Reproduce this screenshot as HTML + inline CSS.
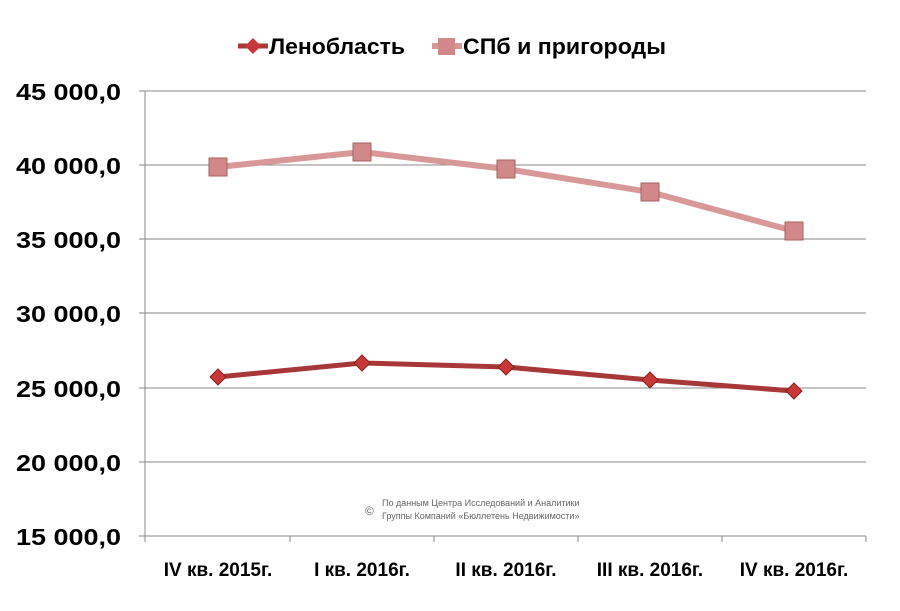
<!DOCTYPE html>
<html><head><meta charset="utf-8"><style>
html,body{margin:0;padding:0;background:#fff;width:900px;height:611px;overflow:hidden}
</style></head><body>
<svg width="900" height="611" xmlns="http://www.w3.org/2000/svg" font-family="'Liberation Sans', sans-serif">
<g stroke="#888" stroke-width="1">
<line x1="145" y1="91" x2="866" y2="91"/>
<line x1="145" y1="165" x2="866" y2="165"/>
<line x1="145" y1="239" x2="866" y2="239"/>
<line x1="145" y1="313" x2="866" y2="313"/>
<line x1="145" y1="388" x2="866" y2="388"/>
<line x1="145" y1="462" x2="866" y2="462"/>
<line x1="145" y1="536" x2="866" y2="536"/>
<line x1="145" y1="91" x2="145" y2="536"/>
<line x1="139" y1="91" x2="145" y2="91"/><line x1="139" y1="165" x2="145" y2="165"/><line x1="139" y1="239" x2="145" y2="239"/><line x1="139" y1="313" x2="145" y2="313"/><line x1="139" y1="388" x2="145" y2="388"/><line x1="139" y1="462" x2="145" y2="462"/><line x1="139" y1="536" x2="145" y2="536"/>
<line x1="145" y1="536" x2="145" y2="542"/><line x1="290" y1="536" x2="290" y2="542"/><line x1="434" y1="536" x2="434" y2="542"/><line x1="578" y1="536" x2="578" y2="542"/><line x1="722" y1="536" x2="722" y2="542"/><line x1="866" y1="536" x2="866" y2="542"/>
</g>
<g font-size="23" font-weight="bold" text-anchor="end" fill="#000">
<text x="121" y="100" textLength="105" lengthAdjust="spacingAndGlyphs">45 000,0</text><text x="121" y="174" textLength="105" lengthAdjust="spacingAndGlyphs">40 000,0</text><text x="121" y="248" textLength="105" lengthAdjust="spacingAndGlyphs">35 000,0</text><text x="121" y="322" textLength="105" lengthAdjust="spacingAndGlyphs">30 000,0</text><text x="121" y="397" textLength="105" lengthAdjust="spacingAndGlyphs">25 000,0</text><text x="121" y="471" textLength="105" lengthAdjust="spacingAndGlyphs">20 000,0</text><text x="121" y="545" textLength="105" lengthAdjust="spacingAndGlyphs">15 000,0</text>
</g>
<g font-size="19" font-weight="bold" text-anchor="middle" fill="#000">
<text x="218" y="576">IV кв. 2015г.</text><text x="362" y="576">I кв. 2016г.</text><text x="506" y="576">II кв. 2016г.</text><text x="650" y="576">III кв. 2016г.</text><text x="794" y="576">IV кв. 2016г.</text>
</g>
<polyline points="218,167 362,152 506,169 650,192 794,231" fill="none" stroke="#d89898" stroke-width="6" stroke-linejoin="round"/>
<g fill="#d08888" stroke="#a86060" stroke-width="1">
<rect x="209" y="158" width="18" height="18"/><rect x="353" y="143" width="18" height="18"/><rect x="497" y="160" width="18" height="18"/><rect x="641" y="183" width="18" height="18"/><rect x="785" y="222" width="18" height="18"/>
</g>
<polyline points="218,377 362,363 506,367 650,380 794,391" fill="none" stroke="#a83838" stroke-width="5" stroke-linejoin="round"/>
<g fill="#c83838" stroke="#8a2020" stroke-width="1">
<polygon points="218,369 226,377 218,385 210,377"/><polygon points="362,355 370,363 362,371 354,363"/><polygon points="506,359 514,367 506,375 498,367"/><polygon points="650,372 658,380 650,388 642,380"/><polygon points="794,383 802,391 794,399 786,391"/>
</g>
<line x1="238" y1="46" x2="268" y2="46" stroke="#a83838" stroke-width="5"/>
<polygon points="253,38 261,46 253,54 245,46" fill="#c83838"/>
<text x="269" y="54" font-size="22" font-weight="bold" textLength="136" lengthAdjust="spacingAndGlyphs">Ленобласть</text>
<line x1="432" y1="46" x2="462" y2="46" stroke="#d89898" stroke-width="6"/>
<rect x="438" y="38" width="17" height="17" fill="#d08888"/>
<text x="463" y="54" font-size="22" font-weight="bold" textLength="203" lengthAdjust="spacingAndGlyphs">СПб и пригороды</text>
<g fill="#666" font-size="9">
<text x="365" y="515" font-size="12">©</text>
<text x="382" y="506">По данным Центра Исследований и Аналитики</text>
<text x="382" y="519">Группы Компаний «Бюллетень Недвижимости»</text>
</g>
</svg>
</body></html>
